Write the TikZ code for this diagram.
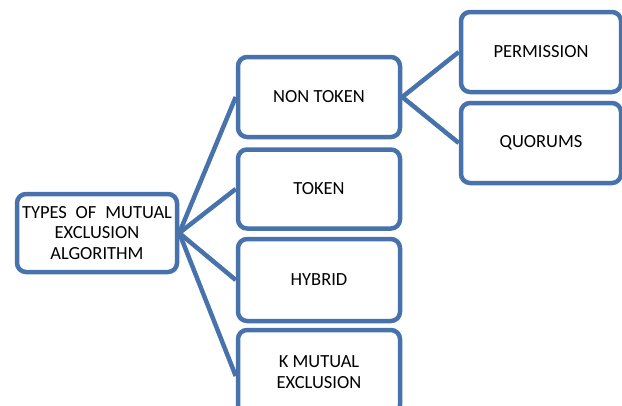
\documentclass[tikz,border=0pt]{standalone}
\usepackage{fontspec}
\setmainfont{Carlito}
\definecolor{boxblue}{RGB}{72,114,172}
\begin{document}
\begin{tikzpicture}[x=1pt,y=-1pt,
  box/.style={draw=boxblue,line width=4.5pt,rounded corners=9pt,fill=white,
    align=center,inner sep=0pt,font=\fontsize{18.5}{20.5}\selectfont},
  link/.style={draw=boxblue,line width=4.5pt}]
\useasboundingbox (0,0) rectangle (622,405);
\node[box,minimum width=160pt,minimum height=78pt] (root) at (97,233)
  {\makebox[150pt][s]{TYPES OF MUTUAL}\\EXCLUSION\\ALGORITHM};
\node[box,minimum width=162pt,minimum height=80pt] (nt) at (319,97) {NON TOKEN};
\node[box,minimum width=162pt,minimum height=79pt] (tk) at (319,189) {TOKEN};
\node[box,minimum width=162pt,minimum height=82pt] (hy) at (319,280) {HYBRID};
\node[box,minimum width=162pt,minimum height=84pt] (km) at (319,372) {K MUTUAL\\EXCLUSION};
\node[box,minimum width=160pt,minimum height=80pt] (pe) at (541,52) {PERMISSION};
\node[box,minimum width=160pt,minimum height=80pt] (qu) at (541,143) {QUORUMS};
\draw[link] (root.east) -- (nt.west);
\draw[link] (root.east) -- (tk.west);
\draw[link] (root.east) -- (hy.west);
\draw[link] (root.east) -- ([yshift=-4pt]km.west);
\draw[link] (nt.east) -- (pe.west);
\draw[link] (nt.east) -- (qu.west);
\end{tikzpicture}
\end{document}
